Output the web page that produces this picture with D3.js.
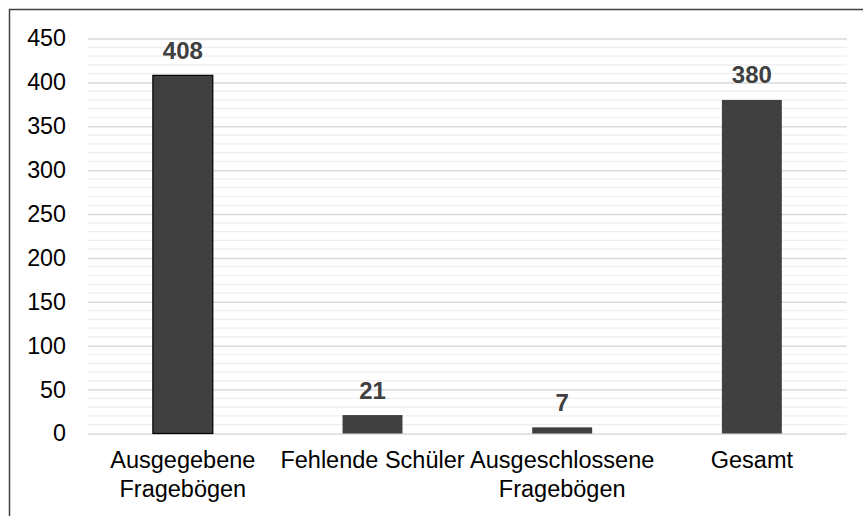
<!DOCTYPE html>
<html>
<head>
<meta charset="utf-8">
<script src="https://cdn.jsdelivr.net/npm/d3@7/dist/d3.min.js"></script>
<style>
  html, body { margin: 0; padding: 0; background: #fff; }
  svg { display: block; font-family: "Liberation Sans", Arial, sans-serif; }
</style>
</head>
<body>
<script>
// Chart data
const categories = ["Ausgegebene Fragebögen", "Fehlende Schüler", "Ausgeschlossene Fragebögen", "Gesamt"];
const values = [408, 21, 7, 380];
const yTicks = [0, 50, 100, 150, 200, 250, 300, 350, 400, 450];
const minorStep = 10;

const width = 863, height = 516;
const plot = { left: 88, right: 846.7, top: 38.5, bottom: 433.5 };

const svg = d3.select("body").append("svg")
  .attr("width", width)
  .attr("height", height);

// Frame around the chart area
svg.append("rect")
  .attr("x", 9.5).attr("y", 9.5)
  .attr("width", width + 20).attr("height", height + 20)
  .attr("fill", "none")
  .attr("stroke", "#404040")
  .attr("stroke-width", 1.5);

const x = d3.scaleBand()
  .domain(categories)
  .range([plot.left, plot.right])
  .paddingInner(0.684)
  .paddingOuter(0.342);

const y = d3.scaleLinear()
  .domain([0, 450])
  .range([plot.bottom, plot.top]);

// Minor gridlines
const minorTicks = d3.range(0, 450 + 1, minorStep).filter(v => v % 50 !== 0);
svg.append("g")
  .selectAll("line")
  .data(minorTicks)
  .join("line")
  .attr("x1", plot.left).attr("x2", plot.right)
  .attr("y1", d => y(d)).attr("y2", d => y(d))
  .attr("stroke", "#eeeeee")
  .attr("stroke-width", 1.2);

// Major gridlines and y labels via axis
const yAxis = d3.axisLeft(y)
  .tickValues(yTicks)
  .tickSize(-(plot.right - plot.left))
  .tickPadding(22);

const gy = svg.append("g")
  .attr("transform", `translate(${plot.left},0)`)
  .call(yAxis);
gy.select(".domain").remove();
gy.selectAll(".tick line")
  .attr("stroke", "#d9d9d9")
  .attr("stroke-width", 1.5);
gy.selectAll(".tick text")
  .attr("fill", "#000")
  .attr("font-size", "23.3px")
  .attr("font-family", "Liberation Sans, Arial, sans-serif");

// Bars
svg.append("g")
  .selectAll("rect")
  .data(values)
  .join("rect")
  .attr("x", (d, i) => x(categories[i]))
  .attr("y", d => y(d))
  .attr("width", x.bandwidth())
  .attr("height", d => y(0) - y(d))
  .attr("fill", "#404040")
  .attr("stroke", (d, i) => i === 0 ? "#000" : "none")
  .attr("stroke-width", 1.2);

// Value labels
svg.append("g")
  .selectAll("text")
  .data(values)
  .join("text")
  .attr("x", (d, i) => x(categories[i]) + x.bandwidth() / 2)
  .attr("y", d => y(d) - 16.5)
  .attr("text-anchor", "middle")
  .attr("font-size", "24px")
  .attr("font-weight", "bold")
  .attr("fill", "#404040")
  .text(d => d);

// Category labels, wrapped to the band step
const step = x.step();
const catG = svg.append("g");
categories.forEach(c => {
  const cx = x(c) + x.bandwidth() / 2;
  const t = catG.append("text")
    .attr("x", cx)
    .attr("y", 468.3)
    .attr("text-anchor", "middle")
    .attr("font-size", "23.5px")
    .attr("fill", "#000");
  const words = c.split(" ");
  let line = [];
  let tspan = t.append("tspan").attr("x", cx).attr("dy", 0);
  words.forEach(w => {
    line.push(w);
    tspan.text(line.join(" "));
    if (tspan.node().getComputedTextLength() > step && line.length > 1) {
      line.pop();
      tspan.text(line.join(" "));
      line = [w];
      tspan = t.append("tspan").attr("x", cx).attr("dy", 28.4).text(w);
    }
  });
});
</script>
</body>
</html>
